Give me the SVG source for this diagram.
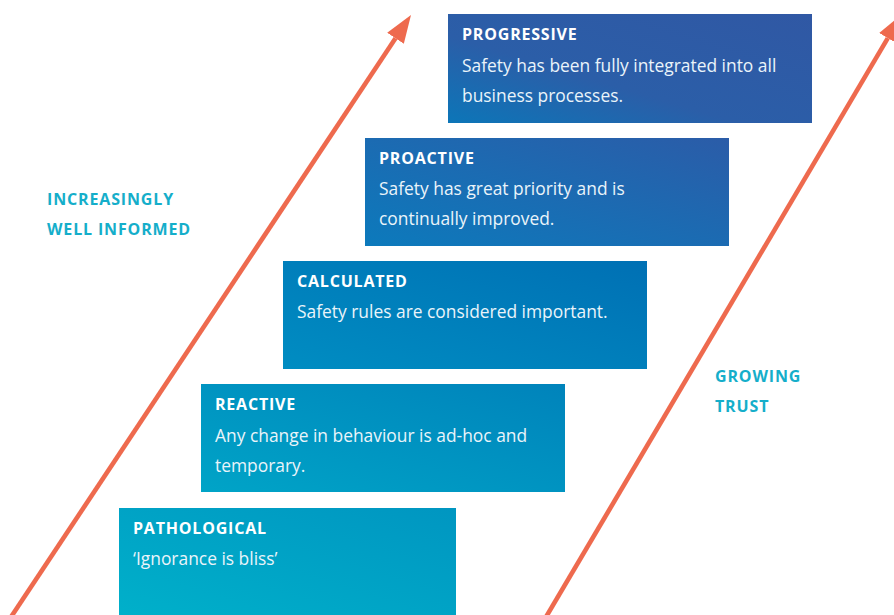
<svg xmlns="http://www.w3.org/2000/svg" width="894" height="615" viewBox="0 0 894 615">
<defs>
<linearGradient id="g1" x1="0" y1="1" x2="1" y2="0">
<stop offset="0" stop-color="#00B0CA"/>
<stop offset="1" stop-color="#0096C1"/>
</linearGradient>
<linearGradient id="g2" x1="0" y1="1" x2="1" y2="0">
<stop offset="0" stop-color="#00A4C7"/>
<stop offset="1" stop-color="#0083BB"/>
</linearGradient>
<linearGradient id="g3" x1="0" y1="1" x2="1" y2="0">
<stop offset="0" stop-color="#008DC2"/>
<stop offset="1" stop-color="#0070B4"/>
</linearGradient>
<linearGradient id="g4" x1="0" y1="1" x2="1" y2="0">
<stop offset="0" stop-color="#0C7ABC"/>
<stop offset="1" stop-color="#2B5CA8"/>
</linearGradient>
<linearGradient id="g5" x1="0" y1="1" x2="1" y2="0">
<stop offset="0" stop-color="#0C76B8"/>
<stop offset="0.4" stop-color="#2B5EA8"/>
<stop offset="1" stop-color="#3058A4"/>
</linearGradient>
<marker id="ah" markerUnits="userSpaceOnUse" markerWidth="30" markerHeight="22" viewBox="0 -11 30 22" refX="0" refY="0" orient="auto">
<path d="M0,-10 L28,0 L0,10 Z" fill="#EE6A4E"/>
</marker>
<style>
.t{font-family:"Open Sans","Noto Sans",sans-serif;font-weight:700;font-size:16px;fill:#fff;letter-spacing:0.8px}
.b{font-family:"Open Sans","Noto Sans",sans-serif;font-size:17.4px;fill:#EAF4FA}
.s{font-family:"Open Sans","Noto Sans",sans-serif;font-weight:700;font-size:16px;fill:#15AECA;letter-spacing:0.85px}
.ar{stroke:#EE6A4E;stroke-width:4.6;fill:none;marker-end:url(#ah)}
</style>
</defs>
<rect width="894" height="615" fill="#fff"/>
<g id="connectors">
<line class="ar" x1="11" y1="617" x2="395.5" y2="38.3"/>
<line class="ar" x1="546" y1="617" x2="887.8" y2="38.1"/>
</g>
<g id="progressive">
<rect fill="url(#g5)" x="448" y="14" width="364" height="109"/>
<text class="t" x="462" y="40">PROGRESSIVE</text>
<text class="b" x="462" y="72">Safety has been fully integrated into all</text>
<text class="b" x="462" y="102">business processes.</text>
</g>
<g id="proactive">
<rect fill="url(#g4)" x="365" y="138" width="364" height="108"/>
<text class="t" x="379" y="164">PROACTIVE</text>
<text class="b" x="379" y="195">Safety has great priority and is</text>
<text class="b" x="379" y="225">continually improved.</text>
</g>
<g id="calculated">
<rect fill="url(#g3)" x="283" y="261" width="364" height="108"/>
<text class="t" x="297" y="287">CALCULATED</text>
<text class="b" x="297" y="318">Safety rules are considered important.</text>
</g>
<g id="reactive">
<rect fill="url(#g2)" x="201" y="384" width="364" height="108"/>
<text class="t" x="215" y="410">REACTIVE</text>
<text class="b" x="215" y="442">Any change in behaviour is ad-hoc and</text>
<text class="b" x="215" y="472">temporary.</text>
</g>
<g id="pathological">
<rect fill="url(#g1)" x="119" y="508" width="337" height="107"/>
<text class="t" x="133" y="534">PATHOLOGICAL</text>
<text class="b" x="133" y="565">‘Ignorance is bliss’</text>
</g>
<g id="label-informed">
<text class="s" x="47" y="205">INCREASINGLY</text>
<text class="s" x="47" y="235">WELL INFORMED</text>
</g>
<g id="label-trust">
<text class="s" x="715" y="382">GROWING</text>
<text class="s" x="715" y="412">TRUST</text>
</g>
</svg>
